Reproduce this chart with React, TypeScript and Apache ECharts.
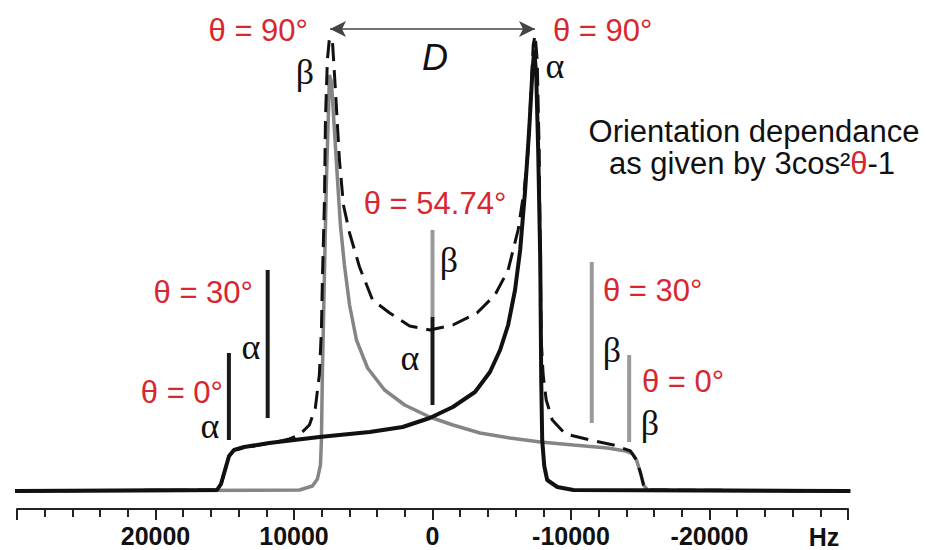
import React, { useEffect, useRef } from "react";
import * as echarts from "echarts";

// Frequency axis (Hz) ticks and labels
const axisMin = -30000;
const axisMax = 30000;
const tickLabels = [20000, 10000, 0, -10000, -20000];

// beta component (grey): frequency (Hz) and intensity (a.u.)
const betaHz = [30600, 9600, 8670, 8310, 8090, 8020, 7950, 7800, 7660, 7510, 7440, 7300, 7080, 6860, 6650, 6360, 5990, 5490, 4690, 3460, 2010, 200, -1470, -3430, -5600, -7780, -10170, -12630, -13940, -14440, -14730, -15020, -15240, -15530, -30600];
const betaI = [0, 1, 5, 12, 26, 51, 118, 218, 311, 381, 416, 409, 361, 311, 266, 226, 186, 151, 123, 101, 86, 74, 66, 58, 53, 49, 46, 43, 40, 37, 31, 18, 6, 1, 0];

// alpha component (black)
const alphaHz = [30600, 15560, 15270, 14980, 14690, 14330, 13600, 11790, 8170, 4540, 2150, 200, -1470, -3070, -4150, -4880, -5460, -5960, -6330, -6690, -6980, -7200, -7340, -7490, -7630, -7780, -7850, -7920, -8070, -8280, -9010, -10170, -30600];
const alphaI = [0, 1, 7, 21, 35, 41, 44, 48, 54, 59, 64, 73, 84, 99, 119, 141, 166, 201, 241, 301, 361, 416, 441, 416, 341, 231, 111, 51, 25, 11, 4, 1, 0];

// summed spectrum (dashed)
const sumHz = [30600, 15560, 15270, 14980, 14690, 14330, 12510, 11280, 10340, 9620, 8890, 8460, 8170, 8020, 7950, 7800, 7730, 7590, 7440, 7230, 7010, 6720, 6430, 5990, 5270, 4330, 3090, 1650, 200, -1470, -3210, -4510, -5460, -6180, -6620, -6910, -7120, -7270, -7410, -7560, -7700, -7780, -7850, -7990, -8210, -8650, -9590, -11400, -13070, -14300, -14730, -15020, -15240, -15530, -30600];
const sumI = [0, 1, 7, 21, 35, 41, 46, 49, 52, 56, 66, 83, 116, 161, 211, 291, 371, 431, 453, 451, 401, 331, 286, 258, 224, 191, 178, 165, 161, 166, 178, 196, 221, 261, 301, 341, 401, 446, 456, 431, 341, 231, 151, 116, 91, 71, 57, 51, 46, 40, 31, 18, 6, 1, 0];

// orientation marker sticks: position (Hz), top and bottom intensity
const alphaStickHz = [14700, 11900, 0];
const alphaStickTop = [138, 221, 174];
const alphaStickBottom = [51, 73, 86];
const betaStickHz = [0, -11500, -14200];
const betaStickTop = [261, 229, 136];
const betaStickBottom = [174, 68, 49];

// dipolar splitting D between the two 90 degree horns
const dipolarHz = [7400, -7400];
const dipolarLevel = 462;

const RED = "#d7282f";
const SANS = "'Liberation Sans', Arial, Helvetica, sans-serif";
const SERIF = "'Liberation Serif', 'Times New Roman', serif";

function zip(xs: number[], ys: number[]) {
  return xs.map((x, i) => [x, ys[i]]);
}

export default function App() {
  const ref = useRef<HTMLDivElement>(null);
  useEffect(() => {
    if (!ref.current) return;
    const chart = echarts.init(ref.current, undefined, { renderer: "svg" });

    const stickSeries: any[] = [];
    alphaStickHz.forEach((hz, i) => {
      stickSeries.push({
        type: "line",
        data: [[hz, alphaStickBottom[i]], [hz, alphaStickTop[i]]],
        symbol: "none",
        silent: true,
        z: 4,
        lineStyle: { color: "#1a1a1a", width: 4, cap: "butt" },
      });
    });
    betaStickHz.forEach((hz, i) => {
      stickSeries.push({
        type: "line",
        data: [[hz, betaStickBottom[i]], [hz, betaStickTop[i]]],
        symbol: "none",
        silent: true,
        z: 4,
        lineStyle: { color: "#9a9a9a", width: 4, cap: "butt" },
      });
    });

    const txt = (text: string, x: number, y: number, opts: any = {}) => ({
      type: "text",
      x,
      y,
      silent: true,
      style: {
        text,
        fill: opts.fill || "#111",
        font: opts.font || `31px ${SANS}`,
        lineHeight: opts.lineHeight || 30,
        align: opts.align || "center",
        verticalAlign: "middle",
        textAlign: opts.align || "center",
        textVerticalAlign: "middle",
        ...(opts.rich ? { rich: opts.rich } : {}),
      },
    });

    const greek = `36px ${SERIF}`;
    const g = { font: greek, lineHeight: 28 };

    chart.setOption({
      animation: false,
      grid: { left: 17, right: 78, top: 9, bottom: 41 },
      xAxis: {
        type: "value",
        min: axisMin,
        max: axisMax,
        interval: 10000,
        inverse: true,
        axisLine: { onZero: false, lineStyle: { color: "#222", width: 2 } },
        axisTick: { length: 11, lineStyle: { color: "#222", width: 2 } },
        minorTick: { show: true, splitNumber: 5, length: 8, lineStyle: { color: "#222", width: 2 } },
        splitLine: { show: false },
        minorSplitLine: { show: false },
        axisLabel: {
          margin: 16,
          color: "#111",
          fontSize: 25,
          lineHeight: 22,
          fontWeight: "bold",
          fontFamily: SANS,
          formatter: (v: number) => (tickLabels.indexOf(v) >= 0 ? String(v) : ""),
        },
      },
      yAxis: {
        type: "value",
        min: -18,
        max: 482,
        show: false,
      },
      series: [
        {
          type: "line",
          name: "beta",
          data: zip(betaHz, betaI),
          symbol: "none",
          clip: false,
          z: 2,
          lineStyle: { color: "#858585", width: 3.5 },
        },
        {
          type: "line",
          name: "alpha",
          data: zip(alphaHz, alphaI),
          symbol: "none",
          clip: false,
          z: 3,
          lineStyle: { color: "#111111", width: 4 },
        },
        {
          type: "line",
          name: "sum",
          data: zip(sumHz, sumI),
          symbol: "none",
          clip: false,
          z: 5,
          lineStyle: { color: "#111111", width: 3, type: [18, 9] },
          markLine: {
            silent: true,
            symbol: ["arrow", "arrow"],
            symbolSize: [12, 16],
            label: { show: false },
            lineStyle: { color: "#444", width: 1.5, type: "solid" },
            data: [[{ coord: [dipolarHz[0], dipolarLevel] }, { coord: [dipolarHz[1], dipolarLevel] }]],
          },
        },
        ...stickSeries,
      ],
      graphic: [
        txt("θ = 90°", 308, 30, { fill: RED, align: "right" }),
        txt("β", 305, 72, g),
        txt("D", 435, 57, { font: `italic 36px ${SANS}` }),
        txt("θ = 90°", 553, 30, { fill: RED, align: "left" }),
        txt("α", 555, 66, g),
        txt("Orientation dependance", 754, 131),
        txt("{a|as given by 3cos²}{r|θ}{a|-1}", 752, 163, {
          rich: {
            a: { fill: "#111", font: `31px ${SANS}` },
            r: { fill: RED, font: `31px ${SANS}` },
          },
        }),
        txt("θ = 54.74°", 435, 203, { fill: RED }),
        txt("β", 449, 260, g),
        txt("α", 410, 358, g),
        txt("θ = 30°", 253, 292, { fill: RED, align: "right" }),
        txt("α", 251, 347, g),
        txt("θ = 0°", 223, 392, { fill: RED, align: "right" }),
        txt("α", 210, 426, g),
        txt("θ = 30°", 603, 290, { fill: RED, align: "left" }),
        txt("β", 612, 350, g),
        txt("θ = 0°", 642, 381, { fill: RED, align: "left" }),
        txt("β", 650, 423, g),
        txt("Hz", 824, 537, { font: `bold 25px ${SANS}`, lineHeight: 22 }),
      ],
    });
    return () => chart.dispose();
  }, []);
  return (
    <div
      ref={ref}
      style={{ position: "fixed", left: 0, top: 0, width: 926, height: 550, background: "#fff" }}
    />
  );
}
